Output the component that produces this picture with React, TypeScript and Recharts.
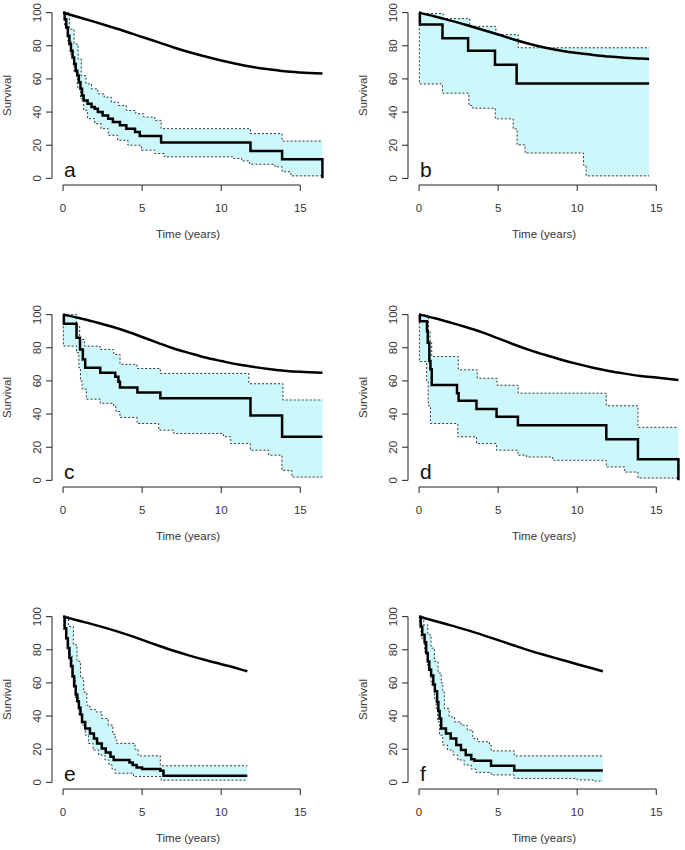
import React from "react";
import {
  ComposedChart,
  XAxis,
  YAxis,
  Line,
  Area,
  ReferenceLine,
  ReferenceDot,
} from "recharts";

type Pt = [number, number];

const FONT = "'Liberation Sans', Arial, Helvetica, sans-serif";

// tick labels
const xTicks = [0, 5, 10, 15];
const yTicks = [0, 20, 40, 60, 80, 100];
const letters = ["a", "b", "c", "d", "e", "f"];

// panel a
const kmA: Pt[] = [[0, 100], [0.1, 96], [0.2, 91], [0.3, 86], [0.4, 81], [0.5, 77], [0.6, 73], [0.7, 69], [0.8, 65], [0.9, 62], [1.0, 58], [1.1, 54], [1.2, 50], [1.3, 47], [1.55, 45], [1.8, 43], [2.0, 42], [2.2, 40], [2.5, 38], [2.85, 36], [3.15, 34], [3.6, 32], [4.0, 30], [4.55, 28], [4.85, 25.5], [6.2, 21.7], [11.85, 16.5], [13.85, 11.5], [16.4, 0]];
const upperA: Pt[] = [[0, 100], [0.4, 90], [0.7, 81], [0.95, 72], [1.15, 62], [1.45, 57], [1.8, 54], [2.2, 51], [2.6, 49], [3.05, 46], [3.5, 44], [4.0, 41], [4.6, 39], [5.1, 37], [5.8, 35], [6.2, 30], [11.85, 27], [13.85, 22.5], [16.4, 22.5]];
const lowerA: Pt[] = [[0, 100], [0.1, 92], [0.3, 83], [0.5, 74], [0.7, 64], [0.9, 55], [1.1, 48], [1.3, 41], [1.55, 36], [2.0, 33], [2.4, 30], [2.85, 26], [3.45, 23], [4.1, 20], [4.95, 17], [5.8, 15], [6.4, 13], [10.8, 12], [11.3, 10.5], [11.8, 8.5], [13.4, 7], [13.85, 4], [14.4, 1.5], [16.4, 1.5]];
const expA: Pt[] = [[0, 100], [1, 97.2], [2, 94.4], [3, 91.5], [4, 88.5], [5, 85.3], [6, 82.2], [7, 79], [8, 76.1], [9, 73.5], [10, 71.1], [11, 69], [12, 67.2], [13, 65.8], [14, 64.6], [15, 63.9], [16.4, 63.3]];

// panel b
const kmB: Pt[] = [[0, 100], [0.05, 92.9], [1.48, 84.6], [3.1, 77], [4.8, 68.5], [6.17, 57.3], [14.55, 57.3]];
const upperB: Pt[] = [[0, 99.5], [1.52, 96.4], [3.2, 91.7], [4.86, 86.7], [6.27, 78.8], [14.55, 78.8]];
const lowerB: Pt[] = [[0, 100], [0.02, 57], [1.48, 51.4], [3.15, 44], [3.4, 42.3], [4.82, 35.9], [5.95, 29.8], [6.2, 20.2], [6.7, 15.3], [10.4, 8], [10.56, 1.5], [14.55, 1.5]];
const expB: Pt[] = [[0, 100], [1, 97.7], [2, 95.2], [3, 92.5], [4, 89.7], [5, 86.8], [6, 83.8], [7, 81.1], [8, 78.8], [9, 77], [10, 75.6], [11, 74.5], [12, 73.5], [13, 72.8], [14, 72.3], [14.55, 72]];

// panel c
const kmC: Pt[] = [[0, 100], [0.05, 94.5], [0.85, 86], [1.07, 79], [1.25, 73], [1.4, 68], [2.35, 65], [3.3, 62.5], [3.5, 59.5], [3.6, 56], [4.7, 53], [6.15, 49.5], [11.85, 39.2], [13.85, 26.3], [16.4, 26.3]];
const upperC: Pt[] = [[0, 100], [0.85, 93], [1.05, 85], [1.35, 81], [2.33, 79], [3.2, 76], [3.6, 70], [4.68, 67.5], [6.15, 64.5], [11.75, 58.3], [13.9, 48.5], [16.4, 48.5]];
const lowerC: Pt[] = [[0, 100], [0.02, 81], [0.85, 77], [1.0, 68], [1.1, 60], [1.2, 55], [1.47, 49], [2.35, 46.5], [3.2, 44.5], [3.35, 41.5], [3.6, 38], [4.68, 34.3], [6.05, 30.3], [7.0, 28.3], [10.15, 26.3], [10.6, 22.2], [11.84, 18.2], [13.0, 15.2], [13.84, 6], [14.47, 2], [16.4, 2]];
const expC: Pt[] = [[0, 100], [1, 98], [2, 95.6], [3, 93], [4, 90], [5, 86.5], [6, 83], [7, 79.6], [8, 76.8], [9, 74.1], [10, 72], [11, 70], [12, 68.5], [13, 67.2], [14, 66.2], [15, 65.5], [16.4, 65]];

// panel d
const kmD: Pt[] = [[0, 100], [0.05, 96], [0.5, 90], [0.55, 83], [0.65, 72], [0.72, 67], [0.8, 57.6], [2.4, 52.5], [2.5, 48], [3.63, 43], [4.9, 38.4], [6.25, 33.3], [11.84, 24.8], [13.84, 12.8], [16.4, 0]];
const upperD: Pt[] = [[0, 100], [0.5, 99], [0.6, 90], [0.7, 83], [0.8, 74.7], [2.48, 66.7], [3.68, 61.6], [4.93, 57.4], [6.27, 52.6], [11.84, 45], [13.84, 32], [16.4, 32]];
const lowerD: Pt[] = [[0, 100], [0.02, 71.7], [0.48, 60], [0.58, 45], [0.72, 34.3], [2.45, 26.3], [3.63, 22.2], [4.9, 18.2], [6.25, 15.2], [6.8, 14.1], [8.45, 12.1], [11.84, 8.1], [13.0, 5], [13.84, 1.4], [16.4, 1.4]];
const expD: Pt[] = [[0, 100], [1, 97.8], [2, 95.2], [3, 92.4], [4, 89.3], [5, 85.7], [6, 82], [7, 78.6], [8, 75.6], [9, 72.8], [10, 70.3], [11, 68], [12, 66], [13, 64.4], [14, 63], [15, 62], [16.4, 60.6]];

// panel e
const kmE: Pt[] = [[0, 100], [0.1, 93], [0.2, 87], [0.3, 81], [0.4, 75], [0.5, 70], [0.6, 64], [0.7, 58], [0.8, 53], [0.9, 49], [1.0, 45], [1.1, 41], [1.2, 36.5], [1.4, 32.5], [1.7, 29.5], [1.95, 26.5], [2.15, 23.5], [2.45, 20.5], [2.7, 18], [3.0, 15.5], [3.2, 13.5], [4.2, 12], [4.4, 10.5], [4.65, 9], [5.0, 8], [6.15, 7], [6.35, 4], [11.65, 4]];
const upperE: Pt[] = [[0, 100], [0.35, 94], [0.65, 83], [0.88, 73], [1.1, 63], [1.3, 54.5], [1.5, 46.5], [1.7, 44], [2.05, 42.5], [2.45, 38.5], [2.85, 34.5], [3.15, 29], [3.3, 25.5], [3.4, 23.5], [4.55, 20], [4.75, 16], [6.15, 10], [11.65, 10]];
const lowerE: Pt[] = [[0, 100], [0.05, 92], [0.15, 87], [0.35, 77], [0.57, 63], [0.78, 51], [1.0, 41], [1.2, 34.5], [1.4, 28.5], [1.6, 23.5], [1.9, 19.5], [2.25, 16.5], [2.65, 13.5], [2.9, 10.5], [3.1, 8], [3.3, 5.5], [4.45, 3.5], [6.2, 1.3], [11.65, 1.3]];
const expE: Pt[] = [[0, 100], [1, 97.5], [2, 95], [3, 92.3], [4, 89.3], [5, 86], [6, 82.6], [7, 79.4], [8, 76.5], [9, 73.8], [10, 71.3], [11, 68.8], [11.65, 67]];

// panel f
const kmF: Pt[] = [[0, 100], [0.1, 94], [0.2, 89], [0.35, 84.5], [0.45, 78], [0.55, 73], [0.65, 68], [0.76, 64.5], [0.9, 59], [1.0, 55], [1.14, 48.5], [1.22, 43], [1.3, 38.5], [1.4, 32.5], [1.7, 29.5], [2.0, 26.5], [2.35, 22.5], [2.65, 19.5], [2.95, 16.5], [3.3, 14], [3.5, 13], [4.55, 10], [6.02, 7.2], [11.62, 7.2]];
const upperF: Pt[] = [[0, 100], [0.3, 95], [0.55, 89], [0.76, 81], [0.97, 73], [1.2, 66], [1.4, 60], [1.5, 54.5], [1.6, 44.5], [1.9, 39.5], [2.25, 36.5], [2.65, 34.5], [3.05, 31.5], [3.4, 26.5], [3.7, 24.5], [4.45, 22.5], [4.56, 19], [6.02, 16], [11.62, 16]];
const lowerF: Pt[] = [[0, 100], [0.02, 97], [0.13, 87], [0.34, 79], [0.55, 69], [0.76, 59], [0.97, 50.5], [1.08, 44.5], [1.18, 36.5], [1.29, 28.5], [1.5, 22.5], [1.8, 19.5], [2.15, 16.5], [2.45, 13.5], [2.85, 10.5], [3.3, 8], [3.6, 6], [4.56, 4.5], [6.02, 2.4], [10.0, 1.5], [11.0, 0.8], [11.62, 0.8]];
const expF: Pt[] = [[0, 100], [1, 97.4], [2, 94.7], [3, 92], [4, 89], [5, 85.8], [6, 82.6], [7, 79.5], [8, 76.7], [9, 74], [10, 71.3], [11, 68.7], [11.62, 67]];

const kms = [kmA, kmB, kmC, kmD, kmE, kmF];
const uppers = [upperA, upperB, upperC, upperD, upperE, upperF];
const lowers = [lowerA, lowerB, lowerC, lowerD, lowerE, lowerF];
const exps = [expA, expB, expC, expD, expE, expF];

// layout (plot area left / top for columns and rows)
const colLeft = [52, 408];
const rowTop = [6, 308, 610];
const PLOT_W = 272;
const PLOT_H = 179;
const M = { top: 5, right: 2, bottom: 10, left: 10 };
const Y_W = 50;
const X_H = 50;

const toPts = (arr: Pt[]) => arr.map(([x, y]) => ({ x, y }));

const stepAt = (arr: Pt[], t: number) => {
  let v = arr[0][1];
  for (const [x, y] of arr) {
    if (x <= t) v = y;
    else break;
  }
  return v;
};

const buildBand = (lo: Pt[], hi: Pt[]) => {
  const ts = Array.from(new Set([...lo.map((p) => p[0]), ...hi.map((p) => p[0])])).sort((a, b) => a - b);
  return ts.map((t) => ({ x: t, range: [stepAt(lo, t), stepAt(hi, t)] }));
};

const YTick = (props: any) => {
  const { x, y, payload } = props;
  return (
    <text
      x={x}
      y={y}
      transform={`rotate(-90 ${x} ${y})`}
      textAnchor="middle"
      fontSize={11.5}
      fill="#333"
      fontFamily={FONT}
    >
      {payload.value}
    </text>
  );
};

function Panel({ i }: { i: number }) {
  const left = colLeft[i % 2];
  const top = rowTop[Math.floor(i / 2)];
  const width = M.left + Y_W + PLOT_W + M.right;
  const height = M.top + PLOT_H + X_H + M.bottom;
  const band = buildBand(lowers[i], uppers[i]);
  const letter = letters[i];

  return (
    <div style={{ position: "absolute", left: left - M.left - Y_W, top: top - M.top }}>
      <ComposedChart width={width} height={height} margin={M}>
        <XAxis
          type="number"
          dataKey="x"
          domain={[-0.7, 16.5]}
          ticks={xTicks}
          allowDataOverflow
          axisLine={false}
          tickLine={{ stroke: "#222" }}
          tickSize={6}
          tickMargin={13}
          height={X_H}
          tick={{ fontSize: 11.5, fill: "#333", fontFamily: FONT }}
          label={{
            content: (p: any) => {
              const vb = p.viewBox;
              return (
                <text
                  x={vb.x + vb.width / 2}
                  y={vb.y + 53}
                  textAnchor="middle"
                  fontSize={11.5}
                  fill="#333"
                  fontFamily={FONT}
                >
                  Time (years)
                </text>
              );
            },
          }}
        />
        <YAxis
          type="number"
          dataKey="y"
          domain={[-4, 104]}
          ticks={yTicks}
          allowDataOverflow
          axisLine={false}
          tickLine={{ stroke: "#222" }}
          tickSize={6}
          tickMargin={5}
          width={Y_W}
          tick={<YTick />}
          label={{
            content: (p: any) => {
              const vb = p.viewBox;
              const cx = vb.x + 9;
              const cy = vb.y + vb.height / 2;
              return (
                <text
                  x={cx}
                  y={cy}
                  transform={`rotate(-90 ${cx} ${cy})`}
                  textAnchor="middle"
                  fontSize={11.5}
                  fill="#333"
                  fontFamily={FONT}
                >
                  Survival
                </text>
              );
            },
          }}
        />

        {/* confidence band */}
        <Area
          data={band}
          dataKey="range"
          type="stepAfter"
          fill="#ccf8fb"
          fillOpacity={1}
          stroke="none"
          isAnimationActive={false}
        />
        <Line data={toPts(uppers[i])} dataKey="y" type="stepAfter" stroke="#333" strokeWidth={1} strokeDasharray="2 2" dot={false} isAnimationActive={false} />
        <Line data={toPts(lowers[i])} dataKey="y" type="stepAfter" stroke="#333" strokeWidth={1} strokeDasharray="2 2" dot={false} isAnimationActive={false} />

        {/* expected survival */}
        <Line data={toPts(exps[i])} dataKey="y" type="monotone" stroke="#000" strokeWidth={2.5} dot={false} isAnimationActive={false} />
        {/* Kaplan-Meier */}
        <Line data={toPts(kms[i])} dataKey="y" type="stepAfter" stroke="#000" strokeWidth={2.5} dot={false} isAnimationActive={false} />

        {/* R-style axis lines spanning the tick range only */}
        <ReferenceLine segment={[{ x: 0, y: -4 }, { x: 15, y: -4 }]} stroke="#222" strokeWidth={1} ifOverflow="visible" />
        <ReferenceLine segment={[{ x: -0.7, y: 0 }, { x: -0.7, y: 100 }]} stroke="#222" strokeWidth={1} ifOverflow="visible" />

        <ReferenceDot
          x={0}
          y={0}
          r={0}
          fill="none"
          stroke="none"
          ifOverflow="visible"
          label={{
            content: (p: any) => {
              const vb = p.viewBox;
              return (
                <text x={vb.x + 1} y={vb.y - 1} fontSize={21} fill="#111" fontFamily={FONT}>
                  {letter}
                </text>
              );
            },
          }}
        />
      </ComposedChart>
    </div>
  );
}

export default function App() {
  return (
    <div
      style={{
        position: "absolute",
        left: 0,
        top: 0,
        width: 685,
        height: 850,
        overflow: "hidden",
        background: "#fff",
      }}
    >
      {letters.map((l, i) => (
        <Panel key={l} i={i} />
      ))}
    </div>
  );
}
